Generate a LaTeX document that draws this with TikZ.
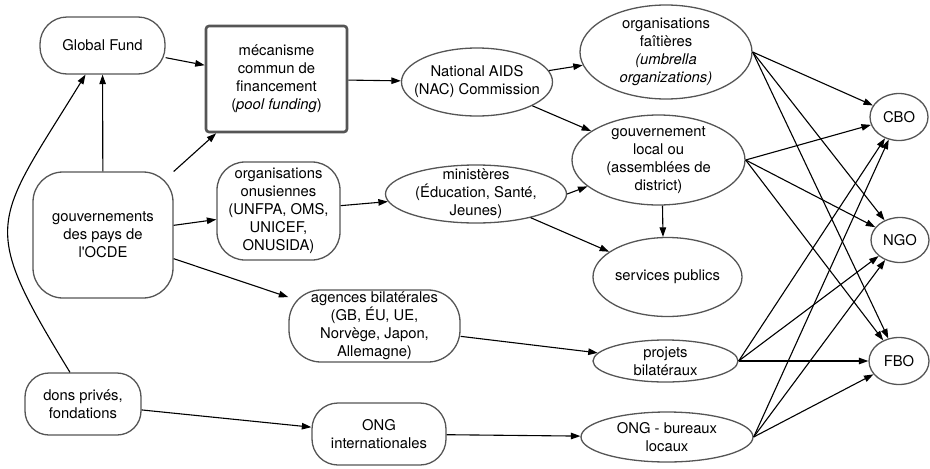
\documentclass[tikz,border=0pt]{standalone}
\usepackage{fontspec}
\setmainfont{TeX Gyre Heros}[Ligatures=TeXOff]
\usetikzlibrary{shapes.geometric,arrows.meta}

\begin{document}
\begin{tikzpicture}[x=1pt,y=-1pt,
    every node/.style={font=\fontsize{14.8}{18}\selectfont,align=center},
    rbox/.style={shape=rectangle,draw=boxline,line width=1.3pt,rounded corners=#1,inner sep=2pt},
    rbox/.default=20pt,
    ell/.style={shape=ellipse,draw=boxline,line width=1.3pt,inner sep=0pt},
    arr/.style={-{Triangle[length=9.5pt,width=6.5pt]},line width=1.1pt}]
    \definecolor{boxline}{RGB}{85,85,85}
    \useasboundingbox (0,0) rectangle (930,469);
    % donors
    \node[rbox=27pt,minimum width=125pt,minimum height=57pt] (gf) at (102.5,45.5) {Global Fund};
    \node[shape=rectangle,draw=boxline,line width=2.6pt,rounded corners=3pt,minimum width=141pt,minimum height=106pt] (mec) at (276.5,79) {mécanisme\\commun de\\financement\\(\textit{pool funding})};
    \node[rbox=30pt,minimum width=140pt,minimum height=126pt] (ocde) at (103,235) {gouvernements\\des pays de\\l'OCDE};
    \node[rbox=28pt,minimum width=123pt,minimum height=98pt] (onu) at (278.5,211) {organisations\\onusiennes\\(UNFPA, OMS,\\UNICEF,\\ONUSIDA)};
    \node[rbox=32pt,minimum width=171pt,minimum height=72pt] (ag) at (374.5,326) {agences bilatérales\\(GB, ÉU, UE,\\Norvège, Japon,\\Allemagne)};
    \node[rbox=24pt,minimum width=116pt,minimum height=62pt] (dons) at (83,404) {dons privés,\\fondations};
    \node[rbox=26pt,minimum width=134pt,minimum height=62pt] (ongi) at (379,434) {ONG\\internationales};
    % national level
    \node[ell,inner xsep=-10pt,minimum width=151pt,minimum height=68pt] (nac) at (477,82) {National AIDS\\(NAC) Commission};
    \node[ell,inner ysep=-1.5pt,minimum width=172pt,minimum height=94pt] (of) at (666,52) {organisations\\faîtières\\\textit{(umbrella}\\\textit{organizations)}};
    \node[ell,inner ysep=-3pt,minimum width=173pt,minimum height=90pt] (gl) at (658.5,160) {gouvernement\\local ou\\(assemblées de\\district)};
    \node[ell,inner ysep=-5pt,minimum width=181pt,minimum height=58pt] (min) at (476,194) {ministères\\(Éducation, Santé,\\Jeunes)};
    \node[ell,minimum width=149pt,minimum height=79pt] (sp) at (667.5,277) {services publics};
    \node[ell,inner ysep=-1.5pt,minimum width=145pt,minimum height=42pt] (pb) at (665.5,361) {projets\\bilatéraux};
    \node[ell,minimum width=172pt,minimum height=50pt] (obl) at (667,437) {ONG - bureaux\\locaux};
    % community level
    \node[ell,minimum width=58pt,minimum height=47pt] (cbo) at (899,117) {CBO};
    \node[ell,minimum width=58pt,minimum height=45pt] (ngo) at (900,240) {NGO};
    \node[ell,minimum width=60pt,minimum height=47pt] (fbo) at (899,361) {FBO};
    % flows
    \draw[arr] (gf) to (mec);
    \draw[arr] (ocde) to (gf);
    \draw[arr] (ocde) to (mec);
    \draw[arr] (ocde) to (onu);
    \draw[arr] (ocde) to (ag);
    \draw[arr] ([xshift=-13pt]dons.north) .. controls (-22,222) and (-7,225) .. ([xshift=-17pt]gf.south);
    \draw[arr] (dons) to (ongi);
    \draw[arr] (mec) to (nac);
    \draw[arr] (nac) to (of);
    \draw[arr] (nac) to (gl);
    \draw[arr] (onu) to (min);
    \draw[arr] (min.east) to (gl);
    \draw[arr] (min) to (sp);
    \draw[arr] ([xshift=4pt]gl.south) to ([xshift=-4.5pt]sp.north);
    \draw[arr] (ag) to (pb);
    \draw[arr] (ongi) to (obl);
    \foreach \src in {of,gl,pb,obl}
        \foreach \dst in {cbo,ngo,fbo}
            \draw[arr] (\src.east) to (\dst);
\end{tikzpicture}
\end{document}
